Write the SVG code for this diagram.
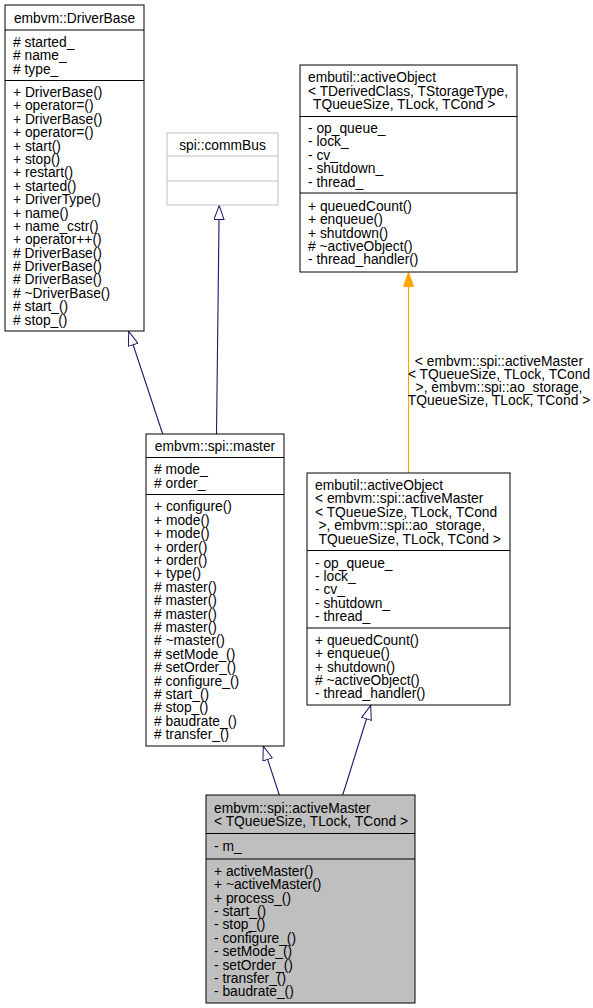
<svg xmlns="http://www.w3.org/2000/svg" width="593" height="1008" viewBox="0 0 593 1008">
<style>
.bx{fill:#fff;stroke:#000;stroke-width:1}
.gbx{fill:#fff;stroke:#bfbfbf;stroke-width:1}
.hl{fill:#bfbfbf;stroke:#000;stroke-width:1}
.sep{stroke:#000;stroke-width:1}
.gsep{stroke:#bfbfbf;stroke-width:1}
text{font-family:"Liberation Sans",Arial,Helvetica,sans-serif;font-size:13.8px;fill:#000}
.c{text-anchor:middle}
.e{fill:none;stroke:#191970;stroke-width:1.1}
.eo{fill:none;stroke:#ffa500;stroke-width:1.1}
</style>
<defs>
<marker id="inh" viewBox="0 0 15 11" refX="14.5" refY="5.5" markerWidth="15" markerHeight="11" markerUnits="userSpaceOnUse" orient="auto">
<path d="M0.5,0.5 L14.5,5.5 L0.5,10.5 Z" fill="#fff" stroke="#191970" stroke-width="1"/>
</marker>
<marker id="tmpl" viewBox="0 0 15 11" refX="14.5" refY="5.5" markerWidth="15" markerHeight="11" markerUnits="userSpaceOnUse" orient="auto">
<path d="M0.5,0.5 L14.5,5.5 L0.5,10.5 Z" fill="#ffa500" stroke="#ffa500" stroke-width="1"/>
</marker>
</defs>

<g id="edges">
<path class="e" d="M162.7,434 L128.7,331.5" marker-end="url(#inh)"/>
<path class="e" d="M216.5,434 L219.2,205.5" marker-end="url(#inh)"/>
<path class="eo" d="M408.5,473 L408.5,272.5" marker-end="url(#tmpl)"/>
<text class="c" x="499" y="366">&lt; embvm::spi::activeMaster</text>
<text class="c" x="499" y="379">&lt; TQueueSize, TLock, TCond</text>
<text class="c" x="499" y="392">&gt;, embvm::spi::ao_storage,</text>
<text class="c" x="499" y="405">TQueueSize, TLock, TCond &gt;</text>
<path class="e" d="M279.3,795 L263.3,746.2" marker-end="url(#inh)"/>
<path class="e" d="M342.7,795 L370.7,705.5" marker-end="url(#inh)"/>
</g>

<g id="DriverBase">
<rect class="bx" x="5" y="5" width="139" height="326"/>
<line class="sep" x1="5" y1="30" x2="144" y2="30"/>
<line class="sep" x1="5" y1="80.5" x2="144" y2="80.5"/>
<text class="c" x="74.5" y="22.5">embvm::DriverBase</text>
<text x="13" y="46.9"><tspan x="13"># started_</tspan><tspan x="13" dy="13.4"># name_</tspan><tspan x="13" dy="13.4"># type_</tspan></text>
<text x="13" y="96.9"><tspan x="13">+ DriverBase()</tspan><tspan x="13" dy="13.4">+ operator=()</tspan><tspan x="13" dy="13.4">+ DriverBase()</tspan><tspan x="13" dy="13.4">+ operator=()</tspan><tspan x="13" dy="13.4">+ start()</tspan><tspan x="13" dy="13.4">+ stop()</tspan><tspan x="13" dy="13.4">+ restart()</tspan><tspan x="13" dy="13.4">+ started()</tspan><tspan x="13" dy="13.4">+ DriverType()</tspan><tspan x="13" dy="13.4">+ name()</tspan><tspan x="13" dy="13.4">+ name_cstr()</tspan><tspan x="13" dy="13.4">+ operator++()</tspan><tspan x="13" dy="13.4"># DriverBase()</tspan><tspan x="13" dy="13.4"># DriverBase()</tspan><tspan x="13" dy="13.4"># DriverBase()</tspan><tspan x="13" dy="13.4"># ~DriverBase()</tspan><tspan x="13" dy="13.4"># start_()</tspan><tspan x="13" dy="13.4"># stop_()</tspan></text>
</g>

<g id="commBus">
<rect class="gbx" x="167" y="133" width="111" height="72"/>
<line class="gsep" x1="167" y1="156" x2="278" y2="156"/>
<line class="gsep" x1="167" y1="181" x2="278" y2="181"/>
<text class="c" x="222.5" y="149.5">spi::commBus</text>
</g>

<g id="activeObjectTemplate">
<rect class="bx" x="300" y="65" width="217" height="207"/>
<line class="sep" x1="300" y1="116.5" x2="517" y2="116.5"/>
<line class="sep" x1="300" y1="193" x2="517" y2="193"/>
<text x="308" y="82.4">embutil::activeObject</text>
<text x="308" y="95.8">&lt; TDerivedClass, TStorageType,</text>
<text x="313" y="109.2">TQueueSize, TLock, TCond &gt;</text>
<text x="308" y="133"><tspan x="308">- op_queue_</tspan><tspan x="308" dy="13.4">- lock_</tspan><tspan x="308" dy="13.4">- cv_</tspan><tspan x="308" dy="13.4">- shutdown_</tspan><tspan x="308" dy="13.4">- thread_</tspan></text>
<text x="308" y="210.7"><tspan x="308">+ queuedCount()</tspan><tspan x="308" dy="13.4">+ enqueue()</tspan><tspan x="308" dy="13.4">+ shutdown()</tspan><tspan x="308" dy="13.4"># ~activeObject()</tspan><tspan x="308" dy="13.4">- thread_handler()</tspan></text>
</g>

<g id="master">
<rect class="bx" x="146" y="434" width="138" height="312"/>
<line class="sep" x1="146" y1="457.5" x2="284" y2="457.5"/>
<line class="sep" x1="146" y1="494.5" x2="284" y2="494.5"/>
<text class="c" x="215" y="450.8">embvm::spi::master</text>
<text x="154" y="474.3"><tspan x="154"># mode_</tspan><tspan x="154" dy="13.4"># order_</tspan></text>
<text x="154" y="511.4"><tspan x="154">+ configure()</tspan><tspan x="154" dy="13.4">+ mode()</tspan><tspan x="154" dy="13.4">+ mode()</tspan><tspan x="154" dy="13.4">+ order()</tspan><tspan x="154" dy="13.4">+ order()</tspan><tspan x="154" dy="13.4">+ type()</tspan><tspan x="154" dy="13.4"># master()</tspan><tspan x="154" dy="13.4"># master()</tspan><tspan x="154" dy="13.4"># master()</tspan><tspan x="154" dy="13.4"># master()</tspan><tspan x="154" dy="13.4"># ~master()</tspan><tspan x="154" dy="13.4"># setMode_()</tspan><tspan x="154" dy="13.4"># setOrder_()</tspan><tspan x="154" dy="13.4"># configure_()</tspan><tspan x="154" dy="13.4"># start_()</tspan><tspan x="154" dy="13.4"># stop_()</tspan><tspan x="154" dy="13.4"># baudrate_()</tspan><tspan x="154" dy="13.4"># transfer_()</tspan></text>
</g>

<g id="activeObjectInstance">
<rect class="bx" x="307" y="473" width="203" height="232"/>
<line class="sep" x1="307" y1="550.5" x2="510" y2="550.5"/>
<line class="sep" x1="307" y1="628" x2="510" y2="628"/>
<text x="315" y="490">embutil::activeObject</text>
<text x="315" y="503.4">&lt; embvm::spi::activeMaster</text>
<text x="315" y="516.8">&lt; TQueueSize, TLock, TCond</text>
<text x="318.5" y="530.2">&gt;, embvm::spi::ao_storage,</text>
<text x="318.5" y="543.6">TQueueSize, TLock, TCond &gt;</text>
<text x="315" y="567.5"><tspan x="315">- op_queue_</tspan><tspan x="315" dy="13.4">- lock_</tspan><tspan x="315" dy="13.4">- cv_</tspan><tspan x="315" dy="13.4">- shutdown_</tspan><tspan x="315" dy="13.4">- thread_</tspan></text>
<text x="315" y="644.7"><tspan x="315">+ queuedCount()</tspan><tspan x="315" dy="13.4">+ enqueue()</tspan><tspan x="315" dy="13.4">+ shutdown()</tspan><tspan x="315" dy="13.4"># ~activeObject()</tspan><tspan x="315" dy="13.4">- thread_handler()</tspan></text>
</g>

<g id="activeMaster">
<rect class="hl" x="206" y="795" width="209" height="208"/>
<line class="sep" x1="206" y1="833.5" x2="415" y2="833.5"/>
<line class="sep" x1="206" y1="859" x2="415" y2="859"/>
<text x="214" y="812.8">embvm::spi::activeMaster</text>
<text x="214" y="826.2">&lt; TQueueSize, TLock, TCond &gt;</text>
<text x="214" y="851.3">- m_</text>
<text x="214" y="875.7"><tspan x="214">+ activeMaster()</tspan><tspan x="214" dy="13.4">+ ~activeMaster()</tspan><tspan x="214" dy="13.4">+ process_()</tspan><tspan x="214" dy="13.4">- start_()</tspan><tspan x="214" dy="13.4">- stop_()</tspan><tspan x="214" dy="13.4">- configure_()</tspan><tspan x="214" dy="13.4">- setMode_()</tspan><tspan x="214" dy="13.4">- setOrder_()</tspan><tspan x="214" dy="13.4">- transfer_()</tspan><tspan x="214" dy="13.4">- baudrate_()</tspan></text>
</g>
</svg>
